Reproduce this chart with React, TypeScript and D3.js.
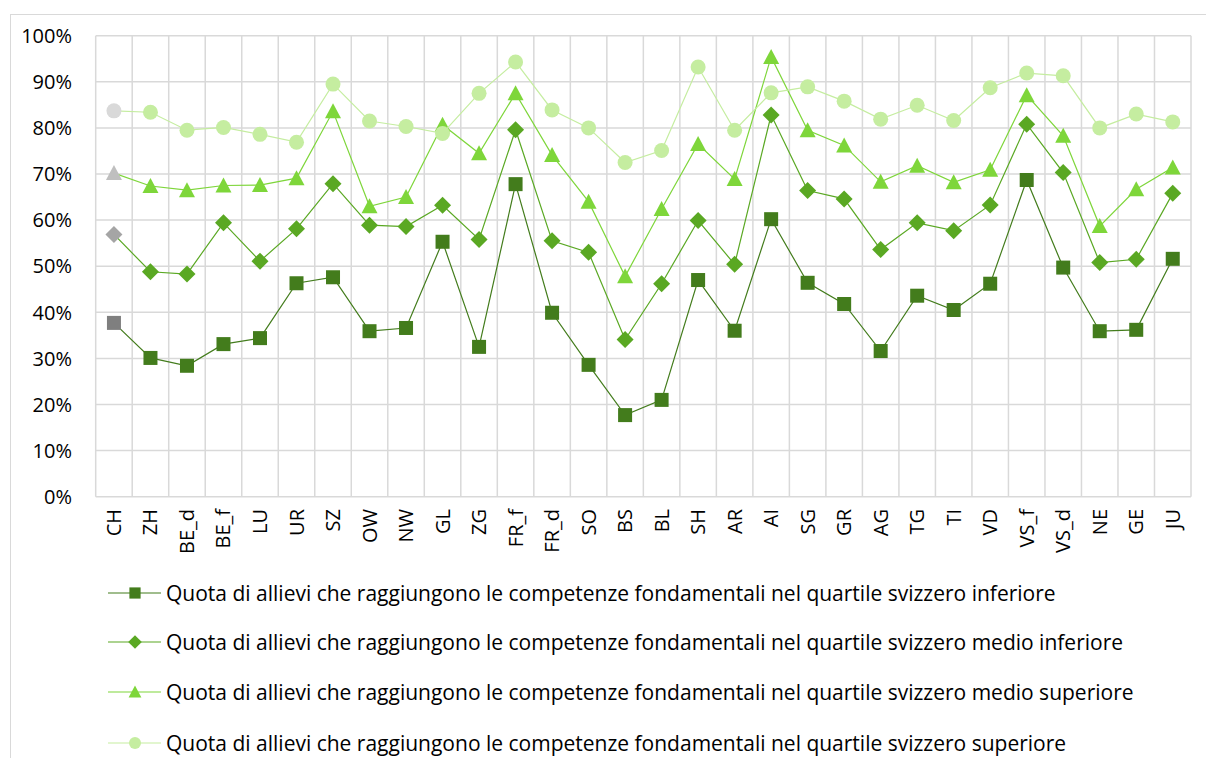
import React from "react";
import * as d3 from "d3";

const categories = ["CH","ZH","BE_d","BE_f","LU","UR","SZ","OW","NW","GL","ZG","FR_f","FR_d","SO","BS","BL","SH","AR","AI","SG","GR","AG","TG","TI","VD","VS_f","VS_d","NE","GE","JU"];

const inferiore = [37.7,30.1,28.4,33.1,34.4,46.3,47.6,35.9,36.6,55.3,32.5,67.8,39.9,28.6,17.7,21.0,47.0,36.0,60.2,46.4,41.8,31.6,43.6,40.5,46.2,68.7,49.7,35.9,36.2,51.6];
const medioInferiore = [56.9,48.8,48.3,59.4,51.1,58.1,67.9,58.9,58.6,63.2,55.8,79.6,55.5,53.0,34.1,46.2,59.9,50.4,82.8,66.4,64.6,53.6,59.4,57.7,63.3,80.8,70.3,50.8,51.5,65.8];
const medioSuperiore = [70.2,67.4,66.5,67.5,67.6,69.1,83.6,63.0,65.0,80.7,74.5,87.5,74.1,64.0,47.8,62.4,76.5,68.9,95.4,79.5,76.2,68.3,71.8,68.2,70.9,87.1,78.3,58.7,66.7,71.4];
const superiore = [83.7,83.4,79.5,80.1,78.6,76.9,89.5,81.5,80.3,78.8,87.5,94.3,83.9,80.0,72.5,75.1,93.2,79.5,87.6,88.9,85.8,81.9,84.9,81.6,88.7,91.9,91.3,80.0,83.0,81.3];

const yTicks = [0,10,20,30,40,50,60,70,80,90,100];

const seriesNames = [
  "Quota di allievi che raggiungono le competenze fondamentali nel quartile svizzero inferiore",
  "Quota di allievi che raggiungono le competenze fondamentali nel quartile svizzero medio inferiore",
  "Quota di allievi che raggiungono le competenze fondamentali nel quartile svizzero medio superiore",
  "Quota di allievi che raggiungono le competenze fondamentali nel quartile svizzero superiore",
];

const series = [
  { name: seriesNames[0], values: inferiore, color: "#437c1c", gray: "#7f7f7f", shape: "square" },
  { name: seriesNames[1], values: medioInferiore, color: "#5aa823", gray: "#a5a5a5", shape: "diamond" },
  { name: seriesNames[2], values: medioSuperiore, color: "#7ed63a", gray: "#bfbfbf", shape: "triangle" },
  { name: seriesNames[3], values: superiore, color: "#c5eda0", gray: "#d9d9d9", shape: "circle" },
];

const FONT = "'Open Sans', 'Noto Sans', sans-serif";

function Marker({ shape, x, y, fill, s = 1 }: { shape: string; x: number; y: number; fill: string; s?: number }) {
  if (shape === "square") {
    const h = 7 * s;
    return <rect x={x - h} y={y - h} width={2 * h} height={2 * h} fill={fill} />;
  }
  if (shape === "diamond") {
    const h = 8.5 * s;
    return <path d={`M${x},${y - h}L${x + h},${y}L${x},${y + h}L${x - h},${y}Z`} fill={fill} />;
  }
  if (shape === "triangle") {
    const w = 8 * s, t = 8 * s, b = 7 * s;
    return <path d={`M${x},${y - t}L${x + w},${y + b}L${x - w},${y + b}Z`} fill={fill} />;
  }
  return <circle cx={x} cy={y} r={7.5 * s} fill={fill} />;
}

export default function App() {
  const W = 1206, H = 758;
  const left = 95.7, right = 1191, top = 35.7, bottom = 496.7;
  const x = d3.scaleBand<string>().domain(categories).range([left, right]).paddingInner(0).paddingOuter(0);
  const y = d3.scaleLinear().domain([0, 100]).range([bottom, top]);
  const cx = (c: string) => (x(c) as number) + x.bandwidth() / 2;
  const line = d3.line<number>().x((_, i) => cx(categories[i])).y((v) => y(v));

  const gridColor = "#d9d9d9";
  const legendY = [593, 642, 692, 743];

  return (
    <svg width={W} height={H} style={{ position: "absolute", left: 0, top: 0, background: "#fff" }} fontFamily={FONT}>
      <rect x={10.5} y={14.5} width={1300} height={800} fill="#fff" stroke="#d9d9d9" strokeWidth={1} />
      {yTicks.map((t) => (
        <line key={"h" + t} x1={left} x2={right} y1={y(t)} y2={y(t)} stroke={gridColor} strokeWidth={1.5} />
      ))}
      {categories.map((c) => (
        <line key={"v" + c} x1={x(c) as number} x2={x(c) as number} y1={top} y2={bottom} stroke={gridColor} strokeWidth={1.5} />
      ))}
      <line x1={right} x2={right} y1={top} y2={bottom} stroke={gridColor} strokeWidth={1.5} />
      {yTicks.map((t) => (
        <text key={"yl" + t} x={72} y={y(t)} dy="0.36em" textAnchor="end" fontSize={20} fill="#000">{t + "%"}</text>
      ))}
      {categories.map((c) => (
        <text key={"xl" + c} transform={`translate(${cx(c) + 7},509) rotate(-90)`} textAnchor="end" fontSize={20} fill="#000">{c}</text>
      ))}
      {series.map((s, si) => (
        <g key={"s" + si}>
          <path d={line(s.values) || ""} fill="none" stroke={s.color} strokeWidth={1.2} />
          {s.values.map((v, i) => (
            <Marker key={i} shape={s.shape} x={cx(categories[i])} y={y(v)} fill={i === 0 ? s.gray : s.color} />
          ))}
        </g>
      ))}
      {series.map((s, si) => (
        <g key={"l" + si}>
          <line x1={108} x2={161} y1={legendY[si]} y2={legendY[si]} stroke={s.color} strokeWidth={1.2} />
          <Marker shape={s.shape} x={135} y={legendY[si]} fill={s.color} s={0.8} />
          <text x={166} y={legendY[si]} dy="0.36em" fontSize={21} fill="#000">{s.name}</text>
        </g>
      ))}
    </svg>
  );
}
